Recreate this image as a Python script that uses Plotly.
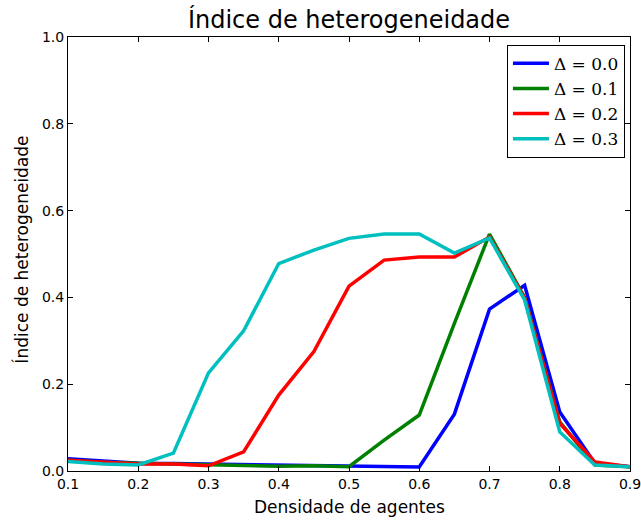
import plotly.graph_objects as go

densidade = [0.1, 0.15, 0.2, 0.25, 0.3, 0.35, 0.4, 0.45, 0.5, 0.55, 0.6, 0.65, 0.7, 0.75, 0.8, 0.85, 0.9]

delta_00 = [0.028, 0.022, 0.018, 0.017, 0.016, 0.014, 0.013, 0.013, 0.011, 0.009, 0.009, 0.131, 0.373, 0.428, 0.136, 0.018, 0.010]
delta_01 = [0.025, 0.020, 0.018, 0.016, 0.013, 0.012, 0.011, 0.012, 0.010, 0.071, 0.129, 0.340, 0.546, 0.400, 0.113, 0.014, 0.010]
delta_02 = [0.025, 0.020, 0.016, 0.016, 0.012, 0.044, 0.175, 0.275, 0.426, 0.486, 0.493, 0.493, 0.539, 0.398, 0.110, 0.021, 0.010]
delta_03 = [0.022, 0.016, 0.014, 0.041, 0.226, 0.323, 0.478, 0.509, 0.536, 0.546, 0.546, 0.502, 0.537, 0.394, 0.090, 0.014, 0.010]

series = [
    ("Δ = 0.0", delta_00, "#0000ff"),
    ("Δ = 0.1", delta_01, "#008000"),
    ("Δ = 0.2", delta_02, "#ff0000"),
    ("Δ = 0.3", delta_03, "#00bfbf"),
]

fig = go.Figure()
for name, vals, color in series:
    fig.add_trace(go.Scatter(x=densidade, y=vals, mode="lines", name=name,
                             line=dict(color=color, width=3.5)))

axis_common = dict(showline=True, linecolor="black", linewidth=1, mirror="allticks",
                   ticks="inside", ticklen=5, tickcolor="black", showgrid=False,
                   zeroline=False, automargin=False, ticklabeloverflow="allow",
                   tickfont=dict(family="DejaVu Sans", size=14, color="black"))

fig.update_layout(
    width=641, height=522,
    margin=dict(l=68, r=11, t=37, b=51),
    paper_bgcolor="white", plot_bgcolor="white",
    title=dict(text="Índice de heterogeneidade", x=(68 + 630) / 2 / 641, xanchor="center",
               xref="container", yref="container", y=1 - 20 / 522, yanchor="middle",
               font=dict(family="DejaVu Sans", size=24, color="black")),
    xaxis=dict(range=[0.1, 0.9], tickvals=[0.1, 0.2, 0.3, 0.4, 0.5, 0.6, 0.7, 0.8, 0.9],
               tickformat=".1f", **axis_common),
    yaxis=dict(range=[0, 1], tickvals=[0, 0.2, 0.4, 0.6, 0.8, 1.0], tickformat=".1f",
               **axis_common),
    legend=dict(x=0.991, y=0.982, xanchor="right", yanchor="top",
                bordercolor="black", borderwidth=1, bgcolor="white",
                font=dict(family="DejaVu Serif", size=17, color="black"),
                itemwidth=36),
    showlegend=True,
    annotations=[
        dict(text="Densidade de agentes", xref="paper", yref="paper", x=0.5, y=-0.083,
             xanchor="center", yanchor="middle", showarrow=False,
             font=dict(family="DejaVu Sans", size=17, color="black")),
        dict(text="Índice de heterogeneidade", xref="paper", yref="paper", x=-0.0819, y=0.51,
             xanchor="center", yanchor="middle", textangle=-90, showarrow=False,
             font=dict(family="DejaVu Sans", size=17, color="black")),
    ],
)

fig.write_html("out.html")
